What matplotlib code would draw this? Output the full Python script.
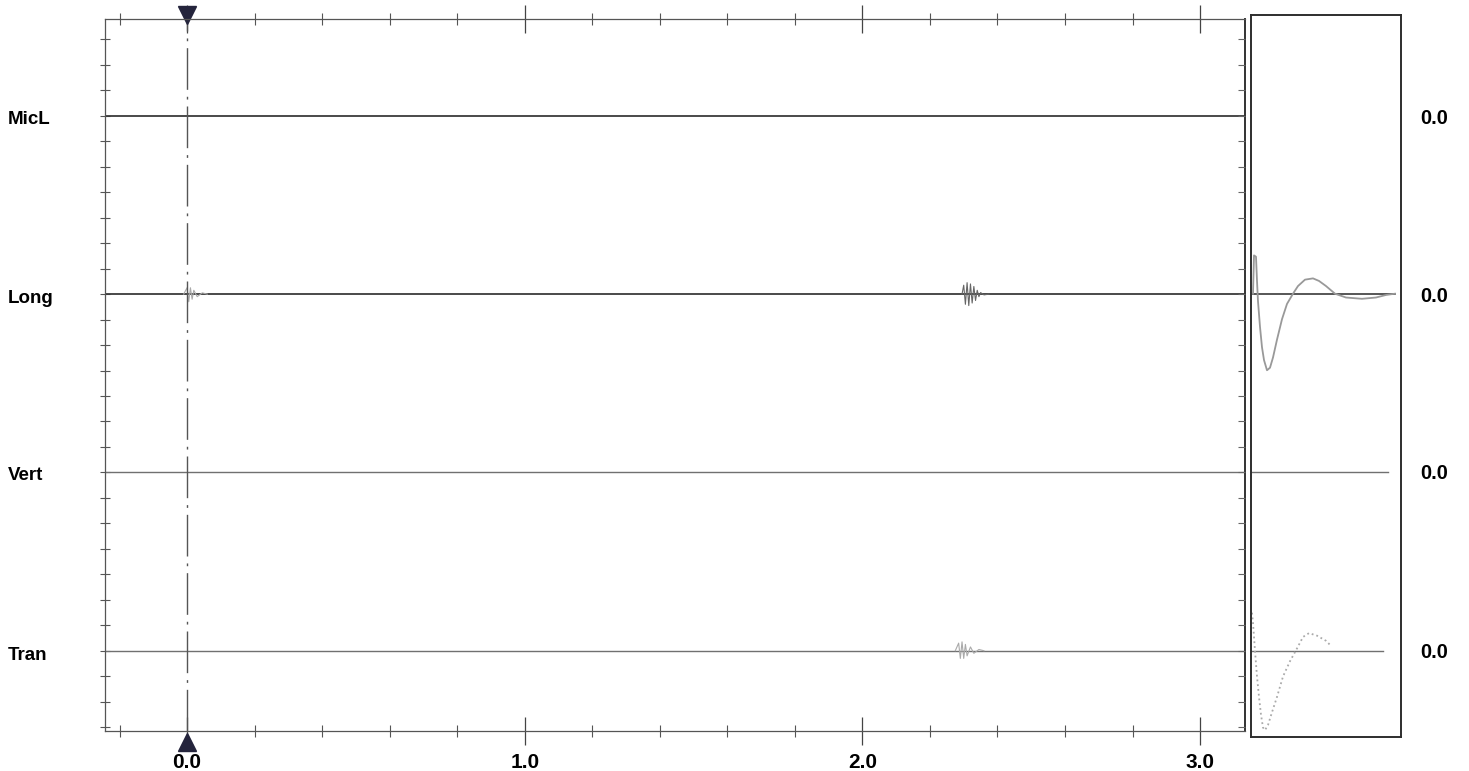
import matplotlib.pyplot as plt
from matplotlib.ticker import MultipleLocator, FixedLocator
import matplotlib.transforms as mtransforms

plt.rcParams['font.family'] = ['Liberation Sans', 'DejaVu Sans']

# channels, their offsets (in tick units) and right-hand readouts
channels = ['MicL', 'Long', 'Vert', 'Tran']
offsets = [0, -7, -14, -21]
readouts = ['0.0', '0.0', '0.0', '0.0']

# x tick labels of the main window
xticks_major = [0.0, 1.0, 2.0, 3.0]
xticks_minor = [-0.2, 0.2, 0.4, 0.6, 0.8, 1.2, 1.4, 1.6, 1.8, 2.2, 2.4, 2.6, 2.8, 3.0]
xlabels = ['0.0', '1.0', '2.0', '3.0']

# small bursts on the main traces (time, amplitude)
long_burst0_t = [-0.01, 0.0, 0.005, 0.01, 0.015, 0.02, 0.03, 0.045, 0.06]
long_burst0_v = [0.0, 0.25, -0.3, 0.25, -0.2, 0.15, -0.1, 0.05, 0.0]
long_burst_t = [2.295, 2.300, 2.305, 2.310, 2.315, 2.320, 2.325, 2.330, 2.335, 2.340, 2.345, 2.350, 2.360, 2.375]
long_burst_v = [0.0, 0.35, -0.4, 0.45, -0.45, 0.4, -0.35, 0.3, -0.25, 0.15, -0.1, 0.06, -0.03, 0.0]
tran_burst_t = [2.275, 2.285, 2.290, 2.295, 2.300, 2.305, 2.310, 2.320, 2.330, 2.345, 2.360]
tran_burst_v = [0.0, 0.3, -0.3, 0.35, -0.3, 0.25, -0.2, 0.15, -0.1, 0.05, 0.0]

# zoomed response window (sample index, amplitude)
long_resp_t = [2, 3, 5, 6, 7, 9, 11, 13, 16, 19, 22, 26, 31, 36, 42, 47, 54, 62, 68, 75, 84, 95, 111, 125, 135, 144]
long_resp_v = [0.0, 1.5, 1.45, 0.5, -0.3, -1.3, -2.1, -2.6, -3.0, -2.9, -2.5, -1.8, -1.0, -0.4, 0.0, 0.3, 0.55,
               0.6, 0.5, 0.3, 0.0, -0.15, -0.2, -0.15, -0.05, 0.0]
tran_resp_t = [1, 2, 4, 6, 8, 10, 12, 14, 17, 21, 26, 32, 39, 46, 52, 58, 66, 75, 80]
tran_resp_v = [1.5, 1.1, 0.0, -1.0, -1.8, -2.5, -3.0, -3.1, -2.9, -2.4, -1.8, -1.0, -0.4, 0.1, 0.55, 0.7, 0.6, 0.4, 0.2]
resp_base_end = [None, 144, 137, 132]

W, H = 1469, 771
fig = plt.figure(figsize=(W / 100, H / 100), dpi=100)


def box(l, t, r, b):
    return [l / W, 1 - b / H, (r - l) / W, (b - t) / H]


ax = fig.add_axes(box(105, 19, 1245, 731))
axr = fig.add_axes(box(1251, 15, 1401, 737))

xmin, xmax = -0.243, 3.133
ax.set_xlim(xmin, xmax)
ax.set_ylim(-24.15, 3.8)
axr.set_xlim(0, 150)
axr.set_ylim(-24.37, 3.92)

dark = '#3a3a3a'
light = '#707070'
for i, (name, off) in enumerate(zip(channels, offsets)):
    c = dark if i < 2 else light
    lw = 1.3 if i < 2 else 1.0
    ax.plot([xmin, xmax], [off, off], color=c, lw=lw)

ax.plot(long_burst0_t, [offsets[1] + v for v in long_burst0_v], color='#aaaaaa', lw=0.8)
ax.plot(long_burst_t, [offsets[1] + v for v in long_burst_v], color='#666666', lw=0.8)
ax.plot(tran_burst_t, [offsets[3] + v for v in tran_burst_v], color='#aaaaaa', lw=0.8)

# cursor at t=0
ax.axvline(0, color='#555555', lw=1.0, dashes=(30, 5, 2, 5))
trans = mtransforms.blended_transform_factory(ax.transData, ax.transAxes)
ax.plot([0], [1 + 4 / 712], marker='v', ms=13, color='#24243c', transform=trans, clip_on=False)
ax.plot([0], [-11 / 712], marker='^', ms=13, color='#24243c', transform=trans, clip_on=False)

ax.xaxis.set_major_locator(FixedLocator(xticks_major))
ax.xaxis.set_minor_locator(FixedLocator(xticks_minor))
ax.set_xticklabels(xlabels, fontsize=15, fontweight='bold')
ax.tick_params(axis='x', which='major', direction='inout', length=20, width=0.9, top=True, color='#444444', pad=6)
ax.tick_params(axis='x', which='minor', direction='inout', length=9, width=0.8, top=True, color='#555555')
ax.yaxis.set_major_locator(MultipleLocator(1))
ax.tick_params(axis='y', which='major', direction='inout', length=7, width=0.8, left=True, right=False,
               labelleft=False, color='#555555')
for sp in ax.spines.values():
    sp.set_color('#555555')
    sp.set_linewidth(0.9)
ax.spines['right'].set_color('#333333')
ax.spines['right'].set_linewidth(1.4)

# inward ticks on the right edge of the main window
axt = ax.twinx()
axt.set_ylim(ax.get_ylim())
axt.yaxis.set_major_locator(MultipleLocator(1))
axt.tick_params(axis='y', direction='in', length=5, width=0.8, labelright=False, color='#666666')
for sp in axt.spines.values():
    sp.set_visible(False)

# zoomed window
for i, off in enumerate(offsets):
    if resp_base_end[i] is not None:
        c = dark if i < 2 else light
        axr.plot([0, resp_base_end[i]], [off, off], color=c, lw=1.2 if i < 2 else 1.0)
axr.plot(long_resp_t, [offsets[1] + v for v in long_resp_v], color='#999999', lw=1.3)
axr.plot(tran_resp_t, [offsets[3] + v for v in tran_resp_v], color='#aaaaaa', lw=1.3, ls=':')
axr.set_xticks([])
axr.set_yticks([])
for sp in axr.spines.values():
    sp.set_color('#2e2e2e')
    sp.set_linewidth(1.4)

# channel names and readouts
chan_px = [120, 299, 475, 655]
for name, val, py in zip(channels, readouts, chan_px):
    fig.text(8 / W, 1 - py / H, name, fontsize=13.5, fontweight='bold', ha='left', va='center')
    fig.text(1420 / W, 1 - (py - 2) / H, val, fontsize=14.5, fontweight='bold', ha='left', va='center')

fig.savefig('out.png', dpi=100, facecolor='white')
